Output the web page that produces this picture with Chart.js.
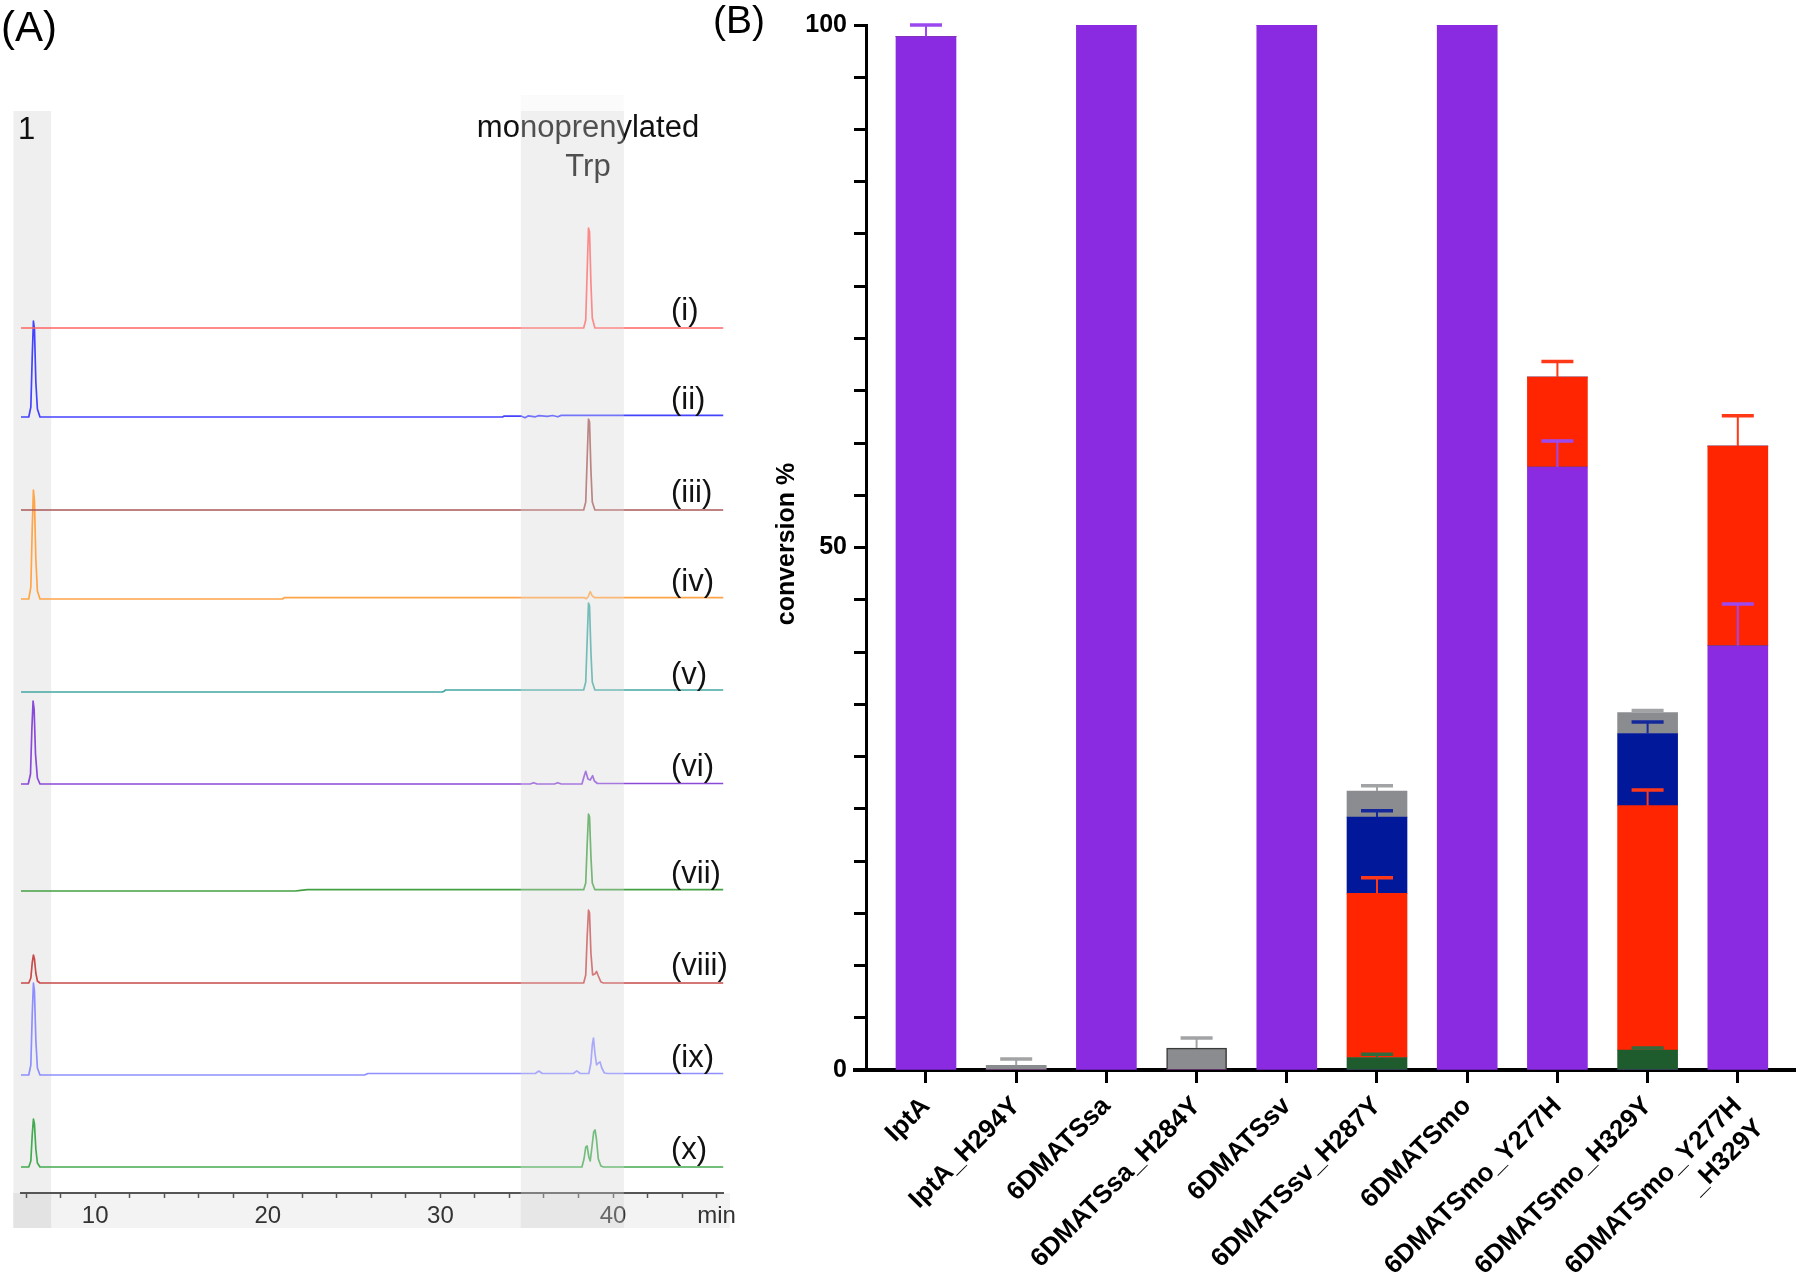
<!DOCTYPE html>
<html>
<head>
<meta charset="utf-8">
<title>Trp prenylation – HPLC and conversion</title>
<script src="https://cdn.jsdelivr.net/npm/chart.js@4.4.1/dist/chart.umd.min.js"></script>
<style>
  html, body { margin: 0; padding: 0; background: #fff; }
  body { width: 1800px; height: 1276px; position: relative; overflow: hidden;
         font-family: 'Liberation Sans', Arial, sans-serif; }
  .tag { position: absolute; line-height: 1; color: #000; }
  #wrapA { position: absolute; left: 0; top: 0; width: 740px; height: 1276px; }
  #wrapB { position: absolute; left: 700px; top: 0; width: 1100px; height: 1276px; }
</style>
</head>
<body>
<div id="wrapA"><canvas id="chartA" width="740" height="1276"></canvas></div>
<div id="wrapB"><canvas id="chartB" width="1100" height="1276"></canvas></div>
<div class="tag" style="left:1px;top:6px;font-size:42px">(A)</div>
<div class="tag" style="left:713px;top:0px;font-size:39px">(B)</div>

<script>
/* ═══════════════════════════════════════
   Panel A — HPLC traces (time in min, signal height)
═══════════════════════════════════════ */

const traceLabels = ['(i)', '(ii)', '(iii)', '(iv)', '(v)', '(vi)', '(vii)', '(viii)', '(ix)', '(x)'];
const traceColors = ['#ff6464', '#4444ff', '#a85a58', '#ffa448', '#44a8a2',
                     '#8a4ad8', '#44a044', '#c84a4a', '#8e8eff', '#44aa52'];

const traceI = [[5.7,0],[38.3,0],[38.42,8],[38.5,55],[38.58,100],[38.64,96],[38.72,45],[38.8,10],[38.95,0],[46.4,0]];
const traceII = [[5.7,0],[6.15,0],[6.27,10],[6.35,60],[6.42,96],[6.48,88],[6.56,35],[6.65,8],[6.8,0],
                 [33.6,0],[33.7,1],[34.7,0.8],[34.9,-0.8],[35.1,1.2],[35.5,0.2],[35.7,1.4],[36.2,0.6],
                 [36.5,1.5],[36.8,0.2],[37.0,1.6],[46.4,1.6]];
const traceIII = [[5.7,0],[38.3,0],[38.42,8],[38.5,50],[38.58,91],[38.64,88],[38.72,40],[38.8,8],[38.95,0],[46.4,0]];
const traceIV = [[5.7,0],[6.15,0],[6.27,12],[6.35,70],[6.42,109],[6.48,98],[6.56,40],[6.65,8],[6.8,0],
                 [20.85,0],[20.95,1.3],[38.35,1.3],[38.45,0.3],[38.55,2],[38.68,7.3],[38.8,3],[38.95,1.3],[46.4,1.3]];
const traceV = [[5.7,0],[30.1,0],[30.2,0.6],[30.3,2],[38.3,2],[38.42,10],[38.5,50],[38.58,89],[38.64,86],
                [38.72,40],[38.8,10],[38.95,2],[46.4,2]];
const traceVI = [[5.7,0],[6.12,0],[6.25,10],[6.33,55],[6.4,83],[6.46,75],[6.54,30],[6.65,6],[6.8,0],
                 [35.2,0],[35.4,1.3],[35.6,0],[36.6,0],[36.8,1.3],[37.0,0],[38.2,0],[38.33,8],[38.42,12.7],
                 [38.55,5],[38.68,4],[38.82,8.3],[38.92,3],[39.1,0.5],[46.4,0.5]];
const traceVII = [[5.7,0],[21.6,0],[21.9,0.7],[22.3,1.3],[38.3,1.3],[38.42,8],[38.5,45],[38.58,77],[38.64,74],
                  [38.72,35],[38.8,8],[38.95,1.3],[46.4,1.3]];
const traceVIII = [[5.7,0],[6.15,0],[6.27,5],[6.35,20],[6.42,28],[6.48,24],[6.56,10],[6.65,2],[6.8,0],
                   [38.3,0],[38.42,8],[38.5,45],[38.58,73],[38.64,70],[38.72,30],[38.82,8],[38.95,9],
                   [39.05,11.5],[39.15,7],[39.3,1],[39.45,0],[46.4,0]];
const traceIX = [[5.7,0],[6.15,0],[6.27,10],[6.35,60],[6.42,92],[6.48,84],[6.56,35],[6.65,7],[6.8,0],
                 [25.6,0],[25.8,1.5],[35.5,1.5],[35.7,4],[35.9,1.5],[37.7,1.5],[37.9,4.2],[38.1,1.5],
                 [38.6,1.5],[38.72,12],[38.8,30],[38.87,37],[38.95,22],[39.05,10],[39.15,12],[39.25,13],
                 [39.35,7],[39.5,2],[39.7,1.5],[46.4,1.5]];
const traceX = [[5.7,0],[6.15,0],[6.27,6],[6.35,32],[6.42,48],[6.48,43],[6.56,18],[6.65,4],[6.8,0],
                [38.2,0],[38.32,8],[38.42,20],[38.5,21],[38.6,10],[38.68,6],[38.78,20],[38.88,35],
                [38.96,37],[39.04,28],[39.15,8],[39.3,1],[39.45,0],[46.4,0]];
const traces = [traceI, traceII, traceIII, traceIV, traceV, traceVI, traceVII, traceVIII, traceIX, traceX];

// layout: vertical offset of each trace, shaded retention windows (min)
const traceOffsets = [865, 776, 683, 594, 501, 409, 302, 210, 118, 26];
const bandSubstrate = [5.26, 7.45];
const bandProduct = [34.66, 40.63];

const hplcDecor = {
  id: 'hplcDecor',
  beforeDraw(chart) {
    const { ctx, chartArea, scales: { x } } = chart;
    ctx.save();
    ctx.fillStyle = '#f3f3f3';
    ctx.fillRect(13, chartArea.bottom, 717, 35);
    ctx.fillStyle = 'rgba(0,0,0,0.063)';
    [bandSubstrate, bandProduct].forEach(([a, b]) => {
      const x0 = x.getPixelForValue(a), x1 = x.getPixelForValue(b);
      ctx.fillRect(x0, chartArea.top, x1 - x0, chartArea.bottom + 35 - chartArea.top);
    });
    ctx.restore();
  },
  afterDraw(chart) {
    const { ctx, chartArea, scales: { x, y } } = chart;
    ctx.save();
    ctx.fillStyle = '#111';
    ctx.font = '31px "Liberation Sans", Arial, sans-serif';
    ctx.textBaseline = 'alphabetic';
    ctx.textAlign = 'left';
    ctx.fillText('1', 18, 139);
    ctx.textAlign = 'center';
    ctx.fillText('monoprenylated', 588, 137);
    ctx.fillText('Trp', 588, 176);

    ctx.textAlign = 'left';
    ctx.textBaseline = 'middle';
    traceLabels.forEach((lab, k) => {
      ctx.fillText(lab, 671, y.getPixelForValue(traceOffsets[k]) - 17);
    });

    // product window washes out what lies under it
    const x0 = x.getPixelForValue(bandProduct[0]), x1 = x.getPixelForValue(bandProduct[1]);
    ctx.fillStyle = 'rgba(239,239,239,0.28)';
    ctx.fillRect(x0, 95, x1 - x0, chartArea.bottom + 35 - 95);
    ctx.restore();
  }
};

new Chart(document.getElementById('chartA'), {
  type: 'line',
  data: {
    datasets: traces.map((pts, k) => ({
      label: traceLabels[k],
      data: pts.map(([t, h]) => ({ x: t, y: traceOffsets[k] + h })),
      borderColor: traceColors[k],
      borderWidth: 1.7,
      borderJoinStyle: 'round',
      pointRadius: 0,
      tension: 0,
    }))
  },
  options: {
    responsive: false,
    animation: false,
    events: [],
    layout: { padding: { left: 21, right: 10, top: 111, bottom: 0 } },
    plugins: { legend: { display: false }, tooltip: { enabled: false } },
    scales: {
      x: {
        type: 'linear',
        min: 5.7,
        max: 46.4,
        border: { color: '#555', width: 2 },
        grid: { drawOnChartArea: false, tickLength: 5, color: '#555', tickWidth: 1.5 },
        ticks: {
          stepSize: 2,
          includeBounds: false,
          autoSkip: false,
          maxRotation: 0,
          padding: 4,
          color: '#333',
          font: { family: '"Liberation Sans", Arial, sans-serif', size: 24 },
          callback: v => (v === 46 ? 'min' : (v % 10 === 0 ? String(v) : '')),
        },
        afterFit: s => { s.height = 83; },
      },
      y: { display: false, min: 0, max: 1082 },
    },
  },
  plugins: [hplcDecor],
});

/* ═══════════════════════════════════════
   Panel B — conversion % (stacked, with SD)
═══════════════════════════════════════ */

const enzymes = ['IptA', 'IptA_H294Y', '6DMATSsa', '6DMATSsa_H284Y', '6DMATSsv', '6DMATSsv_H287Y',
                 '6DMATSmo', '6DMATSmo_Y277H', '6DMATSmo_H329Y', ['6DMATSmo_Y277H', '_H329Y']];

const convPurple = [98.9, 0, 100, 0, 100, 0, 100, 57.7, 0, 40.6];
const errPurple  = [1.1, 0, 0, 0, 0, 0, 0, 2.5, 0, 4.0];
const convGreen  = [0, 0, 0, 0, 0, 1.2, 0, 0, 1.9, 0];
const errGreen   = [0, 0, 0, 0, 0, 0.3, 0, 0, 0.2, 0];
const convRed    = [0, 0, 0, 0, 0, 15.7, 0, 8.6, 23.4, 19.1];
const errRed     = [0, 0, 0, 0, 0, 1.5, 0, 1.5, 1.5, 2.9];
const convBlue   = [0, 0, 0, 0, 0, 7.3, 0, 0, 6.9, 0];
const errBlue    = [0, 0, 0, 0, 0, 0.6, 0, 0, 1.1, 0];
const convGray   = [0, 0.45, 0, 2.1, 0, 2.5, 0, 0, 2.0, 0];
const errGray    = [0, 0.6, 0, 0.97, 0, 0.5, 0, 0, 0.2, 0];

const series = [
  { label: 'purple', vals: convPurple, err: errPurple, fill: '#8a2be2', errColor: '#9c48f0' },
  { label: 'green',  vals: convGreen,  err: errGreen,  fill: '#1e5c2d', errColor: '#2f6b3c' },
  { label: 'red',    vals: convRed,    err: errRed,    fill: '#ff2500', errColor: '#ff3818' },
  { label: 'blue',   vals: convBlue,   err: errBlue,   fill: '#02189a', errColor: '#14289c' },
  { label: 'gray',   vals: convGray,   err: errGray,   fill: '#8a8c8f', errColor: '#a2a3a5' },
];

const errorBars = {
  id: 'errorBars',
  afterDatasetsDraw(chart) {
    const { ctx, scales: { x, y } } = chart;
    ctx.save();
    enzymes.forEach((_, i) => {
      let base = 0;
      series.forEach(s => {
        const top = base + s.vals[i];
        base = top;
        if (!s.err[i]) return;
        const cx = x.getPixelForValue(i);
        const y0 = y.getPixelForValue(top), y1 = y.getPixelForValue(top + s.err[i]);
        ctx.strokeStyle = s.errColor;
        ctx.lineWidth = 2;
        ctx.beginPath(); ctx.moveTo(cx, y0); ctx.lineTo(cx, y1); ctx.stroke();
        ctx.lineWidth = 3.5;
        ctx.beginPath(); ctx.moveTo(cx - 16, y1); ctx.lineTo(cx + 16, y1); ctx.stroke();
      });
    });
    ctx.restore();
  },
  afterDraw(chart) {
    const { ctx, chartArea, scales: { y } } = chart;
    ctx.save();
    // x axis runs a little past the y axis
    ctx.strokeStyle = '#000';
    ctx.lineWidth = 4;
    ctx.beginPath();
    ctx.moveTo(chartArea.left - 13, y.getPixelForValue(0));
    ctx.lineTo(chartArea.left, y.getPixelForValue(0));
    ctx.stroke();
    // y title
    ctx.translate(87, 544);
    ctx.rotate(-Math.PI / 2);
    ctx.fillStyle = '#000';
    ctx.font = 'bold 25px "Liberation Sans", Arial, sans-serif';
    ctx.textAlign = 'center';
    ctx.textBaseline = 'middle';
    ctx.fillText('conversion %', 0, 0);
    ctx.restore();
  }
};

new Chart(document.getElementById('chartB'), {
  type: 'bar',
  data: {
    datasets: series.map(s => ({
      label: s.label,
      data: s.vals.map((v, i) => ({ x: i, y: v })),
      backgroundColor: s.fill,
      borderColor: '#3a3a3a',
      borderWidth: s.label === 'gray' ? [0, 0, 0, 1.5, 0, 0, 0, 0, 0, 0] : 0,
      barThickness: 60,
    }))
  },
  options: {
    responsive: false,
    animation: false,
    events: [],
    layout: { padding: { left: 0, right: 5, top: 25, bottom: 0 } },
    plugins: { legend: { display: false }, tooltip: { enabled: false } },
    scales: {
      x: {
        type: 'linear',
        stacked: true,
        offset: false,
        min: -0.665,
        max: 9.634,
        border: { color: '#000', width: 4 },
        grid: { offset: false, drawOnChartArea: false, tickLength: 13, color: '#000', tickWidth: 3 },
        ticks: {
          stepSize: 1,
          includeBounds: false,
          autoSkip: false,
          minRotation: 45,
          maxRotation: 45,
          padding: 8,
          color: '#000',
          font: { family: '"Liberation Sans", Arial, sans-serif', size: 26, weight: 'bold' },
          callback: v => enzymes[v],
        },
        afterFit: s => { s.height = 206; },
      },
      y: {
        stacked: true,
        min: 0,
        max: 100,
        border: { color: '#000', width: 3 },
        grid: { drawOnChartArea: false, tickLength: 12, color: '#000', tickWidth: 3 },
        ticks: {
          stepSize: 5,
          padding: 7,
          color: '#000',
          font: { family: '"Liberation Sans", Arial, sans-serif', size: 25, weight: 'bold' },
          callback: v => (v % 50 === 0 ? String(v) : ''),
        },
        afterFit: s => { s.width = 166; },
      },
    },
  },
  plugins: [errorBars],
});
</script>
</body>
</html>
